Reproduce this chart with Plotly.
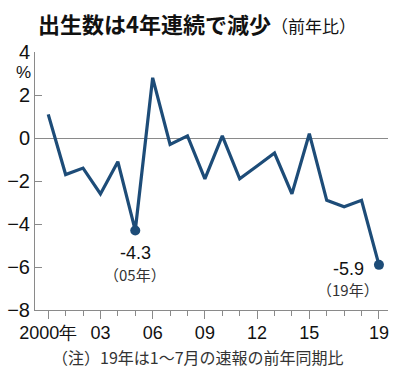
import plotly.graph_objects as go

years = list(range(2000, 2020))
values = [1.1, -1.7, -1.4, -2.6, -1.1, -4.3, 2.8, -0.3, 0.1, -1.9,
          0.1, -1.9, -1.3, -0.7, -2.6, 0.2, -2.9, -3.2, -2.9, -5.9]
x_tickvals = [2000, 2003, 2006, 2009, 2012, 2015, 2019]
x_ticktext = ["2000年", "03", "06", "09", "12", "15", "19"]
y_tickvals = [-8, -6, -4, -2, 0, 2, 4]
highlight_years = [2005, 2019]
highlight_labels = ["-4.3", "-5.9"]
highlight_sub = ["（05年）", "（19年）"]

LINE = "#1d4c78"
AXIS = "#8a8a8a"
NUM_FONT = "Liberation Sans Narrow, Arial Narrow, Liberation Sans, Arial, sans-serif"
JP_FONT = "Noto Sans CJK JP, sans-serif"

fig = go.Figure()
fig.add_trace(go.Scatter(x=years, y=values, mode="lines",
                         line=dict(color=LINE, width=3.2), hoverinfo="skip"))
hv = [values[years.index(y)] for y in highlight_years]
fig.add_trace(go.Scatter(x=highlight_years, y=hv, mode="markers",
                         marker=dict(color=LINE, size=10), hoverinfo="skip"))

# value annotations (pixel offsets from the marked point)
shifts = [((0, -23), (0, -44)), ((-30, -4), (-31, -25))]
for yr, v, lab, sub, (s1, s2) in zip(highlight_years, hv, highlight_labels, highlight_sub, shifts):
    fig.add_annotation(x=yr, y=v, text=lab, showarrow=False, xshift=s1[0], yshift=s1[1],
                       borderpad=0,
                       font=dict(family=NUM_FONT, size=18, color="#111111"))
    fig.add_annotation(x=yr, y=v, text=sub, showarrow=False, xshift=s2[0], yshift=s2[1],
                       borderpad=0,
                       font=dict(family=JP_FONT, size=15, color="#333333"))

# percent sign
fig.add_annotation(xref="paper", yref="paper", x=0, xshift=-12, y=1, yshift=-20,
                   text="%", showarrow=False, xanchor="center", yanchor="middle",
                   font=dict(family=NUM_FONT, size=17, color="#111111"))

# title
fig.add_annotation(xref="paper", yref="paper", x=0, xshift=1, y=1, yshift=29,
                   xanchor="left", yanchor="middle", showarrow=False,
                   text="<b>出生数は4年連続で減少</b><span style='font-size:17px'>（前年比）</span>",
                   font=dict(family=JP_FONT, size=22, color="#111111"))

# note
fig.add_annotation(xref="paper", yref="paper", x=0.4618, y=0, yshift=-47,
                   xanchor="center", yanchor="middle", showarrow=False,
                   text="（注）19年は1～7月の速報の前年同期比",
                   font=dict(family=JP_FONT, size=16, color="#333333"))

fig.update_layout(
    width=400, height=379,
    margin=dict(l=35, r=12, t=52, b=69, pad=0),
    paper_bgcolor="white", plot_bgcolor="white",
    showlegend=False,
    xaxis=dict(range=[1999.24, 2019.52], showgrid=False, zeroline=False, automargin=False,
               showline=True, linecolor=AXIS, linewidth=1,
               tickmode="array", tickvals=x_tickvals, ticktext=x_ticktext,
               ticks="outside", ticklen=8, tickcolor=AXIS, tickwidth=1,
               ticklabelstandoff=-2,
               minor=dict(dtick=1, tick0=2000, ticks="outside", ticklen=5, tickcolor=AXIS, showgrid=False),
               tickfont=dict(family=NUM_FONT, size=18, color="#111111"),
               fixedrange=True),
    yaxis=dict(range=[-8, 4], showgrid=False, zeroline=True, zerolinecolor=AXIS, zerolinewidth=1,
               showline=True, linecolor=AXIS, linewidth=1, automargin=False,
               tickmode="array", tickvals=y_tickvals,
               ticks="inside", ticklen=7, tickcolor=AXIS, tickwidth=1,
               tickfont=dict(family=NUM_FONT, size=20, color="#111111"),
               fixedrange=True),
)

fig.write_html("out.html", config={"displayModeBar": False},
               post_script="document.body.style.margin='0';document.body.style.overflow='hidden';")
